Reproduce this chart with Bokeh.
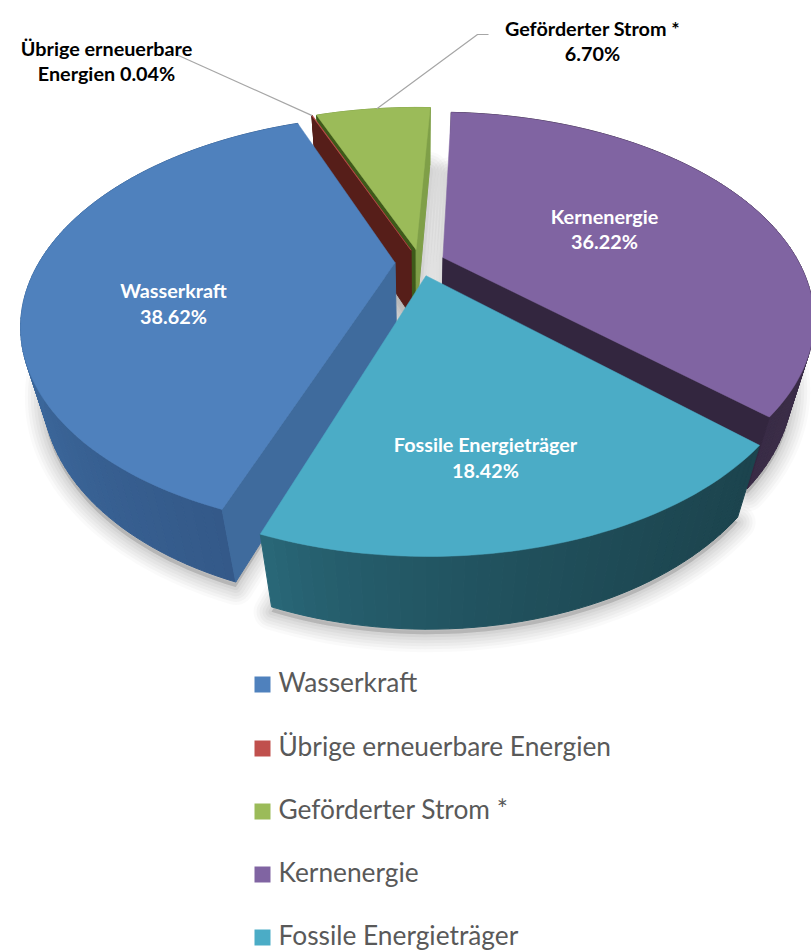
import numpy as np
from bokeh.plotting import figure
from bokeh.models import Range1d
from bokeh.embed import file_html
from bokeh.resources import INLINE
from bokeh.core.properties import value

# ---- data ----
categories = ["Wasserkraft", "Übrige erneuerbare Energien", "Geförderter Strom *", "Kernenergie", "Fossile Energieträger"]
shares = [38.62, 0.04, 6.70, 36.22, 18.42]
top_colors = ["#4F81BD", "#C0504D", "#9BBB59", "#8064A2", "#4BACC6"]
legend_colors = ["#4F81BD", "#C0504D", "#9BBB59", "#8064A2", "#4BACC6"]
wall_from = ["#3C689C", "#561E19", "#7F9F48", "#2F2438", "#2A6B7C"]
wall_to = ["#325685", "#561E19", "#7F9F48", "#3A2C47", "#1C444E"]
# faces at the start (clockwise) and at the end of each slice, where they can be seen
start_faces = ["#3F6B9D", "#561E19", "#3E5A1A", None, None]
end_faces = [None, None, "#7F9F48", "#33263F", None]
slice_labels = [["Wasserkraft", "38.62%"],
                ["Übrige erneuerbare", "Energien 0.04%"],
                ["Geförderter Strom *", "6.70%"],
                ["Kernenergie", "36.22%"],
                ["Fossile Energieträger", "18.42%"]]

# ---- pie projection ----
START = 199.5
EXPLODE = 0.07
OX, OY = 419.5, 262.0
F, G, K = 356.0, 190.0, 0.29
M, H = 0.054, 70.0

def project(X, Fr, D=0.0):
    w = 1 - K * np.asarray(Fr) + M * D
    return OX + F * np.asarray(X) / w, OY + (G * np.asarray(Fr) + H * D) / w

def hex2rgb(h):
    return np.array([int(h[i:i + 2], 16) for i in (1, 3, 5)], float)

def mix(a, b, t):
    c = hex2rgb(a) * (1 - t) + hex2rgb(b) * t
    return "#%02x%02x%02x" % tuple(int(round(v)) for v in c)

angles = START + np.cumsum([0] + [s * 3.6 for s in shares])
slices = []
for i in range(len(shares)):
    a0, a1 = np.radians(angles[i]), np.radians(angles[i + 1])
    bis = (a0 + a1) / 2
    ax, af = EXPLODE * np.sin(bis), -EXPLODE * np.cos(bis)
    th = np.linspace(a0, a1, max(3, int((a1 - a0) * 40)))
    arcx, arcf = ax + np.sin(th), af - np.cos(th)
    slices.append(dict(ax=ax, af=af, arcx=arcx, arcf=arcf))

W, HT = 811, 951
p = figure(width=W, height=HT, x_range=Range1d(0, W), y_range=Range1d(HT, 0),
           output_backend="svg", toolbar_location=None, min_border=0,
           x_axis_location=None, y_axis_location=None, outline_line_color=None,
           background_fill_color="white", border_fill_color="white")
p.grid.visible = False

# soft shadow under the pie
for lw, alpha in [(36, 0.04), (30, 0.05), (24, 0.055), (18, 0.06), (12, 0.07), (6, 0.09)]:
    xs, ys = [], []
    for s in slices:
        x, y = project(np.r_[s["ax"], s["arcx"]], np.r_[s["af"], s["arcf"]], 1.0)
        xs.append(list(x)); ys.append(list(y + 5))
    p.patches(xs, ys, fill_color="#7A7A7A", fill_alpha=alpha, line_color="#7A7A7A",
              line_alpha=alpha, line_width=lw, line_join="round")

def draw_slice(i):
    s = slices[i]
    tx, ty = project(s["arcx"], s["arcf"])
    bx, by = project(s["arcx"], s["arcf"], 1.0)
    apx, apy = project(s["ax"], s["af"])
    abx, aby = project(s["ax"], s["af"], 1.0)
    # outer wall
    xs, ys, cols = [], [], []
    for j in range(len(tx) - 1):
        xs.append([tx[j], tx[j + 1], bx[j + 1], bx[j]])
        ys.append([ty[j], ty[j + 1], by[j + 1], by[j]])
        vis = np.clip((tx[j] - tx.min()) / max(1.0, tx.max() - tx.min()), 0, 1)
        cols.append(mix(wall_from[i], wall_to[i], vis ** 0.6))
    p.patches(xs, ys, fill_color=cols, line_color=cols, line_width=1)
    # radial faces that can be seen from the viewpoint
    for idx, col in ((0, start_faces[i]), (-1, end_faces[i])):
        if col:
            p.patch([apx, tx[idx], bx[idx], abx], [apy, ty[idx], by[idx], aby],
                    fill_color=col, line_color=col, line_width=1)
    # top face
    p.patch(np.r_[apx, tx], np.r_[apy, ty], fill_color=top_colors[i], line_color=top_colors[i], line_width=0.5)

for i in [2, 1, 3, 0, 4]:
    draw_slice(i)

# leader lines
LEADER = "#A6A6A6"
rs, gs = slices[1], slices[2]
x0, y0 = project(rs["arcx"][1], rs["arcf"][1])
p.line([x0, 178], [y0, 55], line_color=LEADER, line_width=1.2)
mid = int(len(gs["arcx"]) * 0.5)
x0, y0 = project(gs["arcx"][mid], gs["arcf"][mid])
p.line([x0, 477, 488], [y0, 34, 34], line_color=LEADER, line_width=1.2)

# data labels
font = value("Lato")
lab_pos = [(173, 289, "white"), (106, 47, "black"), (592, 27, "black"), (604, 215, "white"), (485, 443, "white")]
lab_step = [26, 25, 25, 25, 26]
for (lx, ly, c), lines, st in zip(lab_pos, slice_labels, lab_step):
    p.text([lx] * len(lines), [ly + st * k for k in range(len(lines))], text=lines, text_color=c,
           text_font=font, text_font_style="bold", text_font_size="19.8px",
           text_align="center", text_baseline="middle")

# legend
leg_y = [684, 748, 811, 874, 937]
p.rect([262] * 5, leg_y, width=16, height=16, fill_color=legend_colors, line_color=None)
p.text([278] * 5, [y - 3 for y in leg_y], text=categories, text_color="#595959", text_font=font,
       text_font_size="26.3px", text_align="left", text_baseline="middle")

open("out.html", "w").write(file_html(p, INLINE))
